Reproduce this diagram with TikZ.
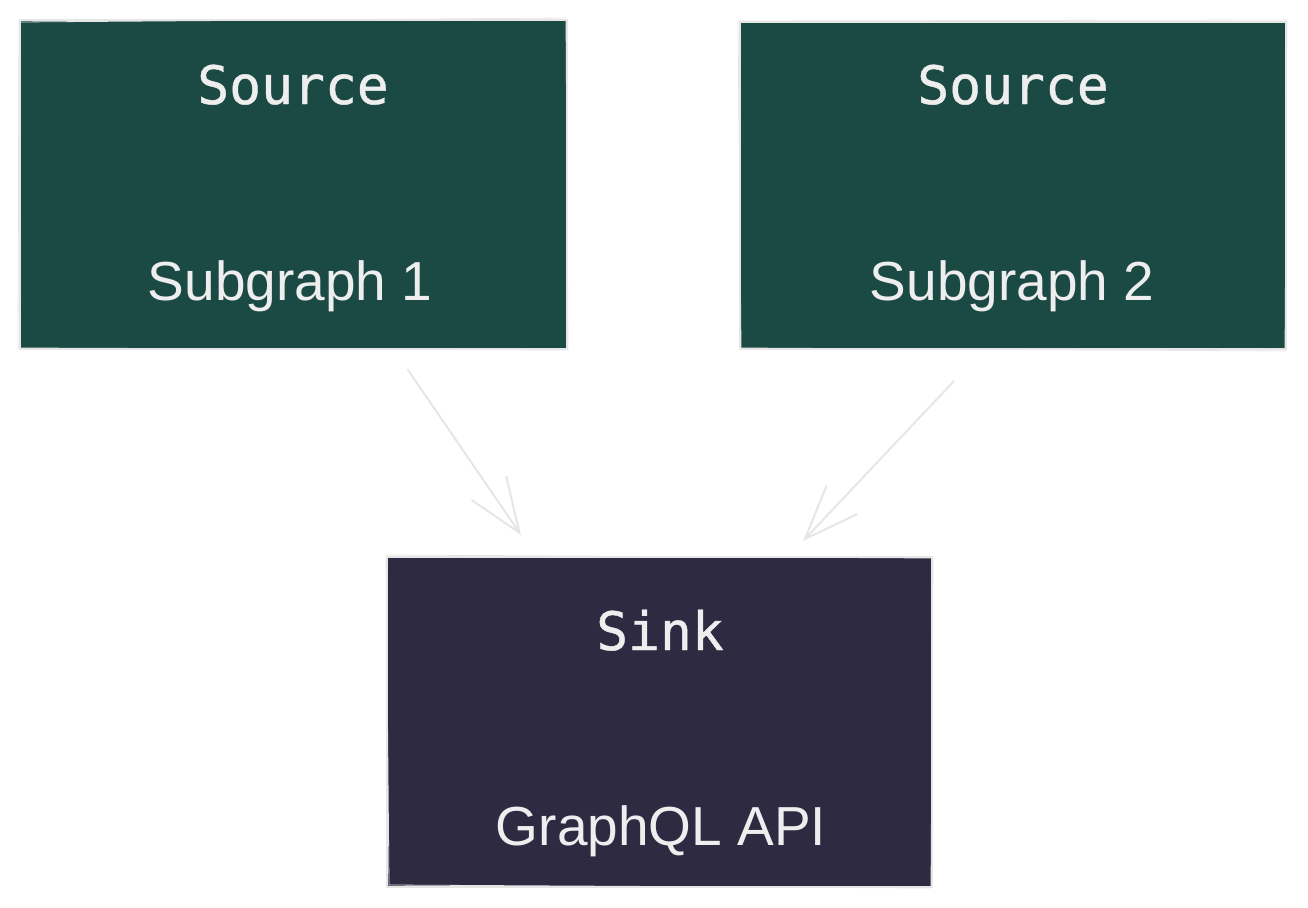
\documentclass[tikz,border=0pt]{standalone}
\usepackage{fontspec}
\setmainfont{Liberation Sans}
\newfontfamily\monofont[FakeBold=0.8]{DejaVu Sans Mono}
\usetikzlibrary{arrows.meta}
\definecolor{srcgreen}{HTML}{1B4A45}
\definecolor{sinkpurple}{HTML}{2D2A42}
\definecolor{inkgrey}{HTML}{EEEEEE}
\definecolor{edgegrey}{HTML}{E6E6E6}
\tikzset{
  box/.style={draw=edgegrey, line width=1.6pt, inner sep=0pt},
  srcbox/.style={box, fill=srcgreen},
  sinkbox/.style={box, fill=sinkpurple},
  title/.style={text=inkgrey, font=\monofont\fontsize{53}{60}\selectfont, anchor=base, inner sep=0pt},
  label/.style={text=inkgrey, font=\fontsize{55}{62}\selectfont, anchor=base, inner sep=0pt},
  flow/.style={draw=edgegrey, line width=2pt, line cap=round, -{Straight Barb[length=54pt,width=42pt,line width=2pt]}},
}
\begin{document}
\begin{tikzpicture}[x=1pt,y=-1pt]
\useasboundingbox (0,0) rectangle (1308,907);
\node[srcbox, minimum width=547pt, minimum height=329pt] (src1) at (293.5,184.5) {};
\node[srcbox, minimum width=546pt, minimum height=327pt] (src2) at (1013,185.5) {};
\node[sinkbox, minimum width=545pt, minimum height=330pt] (sink) at (659.5,722) {};
% sketchy second strokes
\draw[edgegrey, line width=0.8pt] (19,22) -- (566,18) -- (568,350) -- (18,348) -- cycle;
\draw[edgegrey, line width=0.8pt] (738,21) -- (1287,20) -- (1285,351) -- (741,348) -- cycle;
\draw[edgegrey, line width=0.8pt] (386,555) -- (933,558) -- (931,888) -- (389,885) -- cycle;
\node[title] (t1) at (293,104) {Source};
\node[label] (l1) at (290,300) {Subgraph 1};
\node[title] (t2) at (1013,104) {Source};
\node[label] (l2) at (1012,300) {Subgraph 2};
\node[title] (t3) at (660,650) {Sink};
\node[label] (l3) at (661,845) {GraphQL API};
\coordinate (a1s) at (408,370);
\coordinate (a1e) at (521,535);
\coordinate (a2s) at (954,381);
\coordinate (a2e) at (803,541);
\draw[flow] (a1s) -- (a1e);
\draw[flow] (a2s) -- (a2e);
\end{tikzpicture}
\end{document}
